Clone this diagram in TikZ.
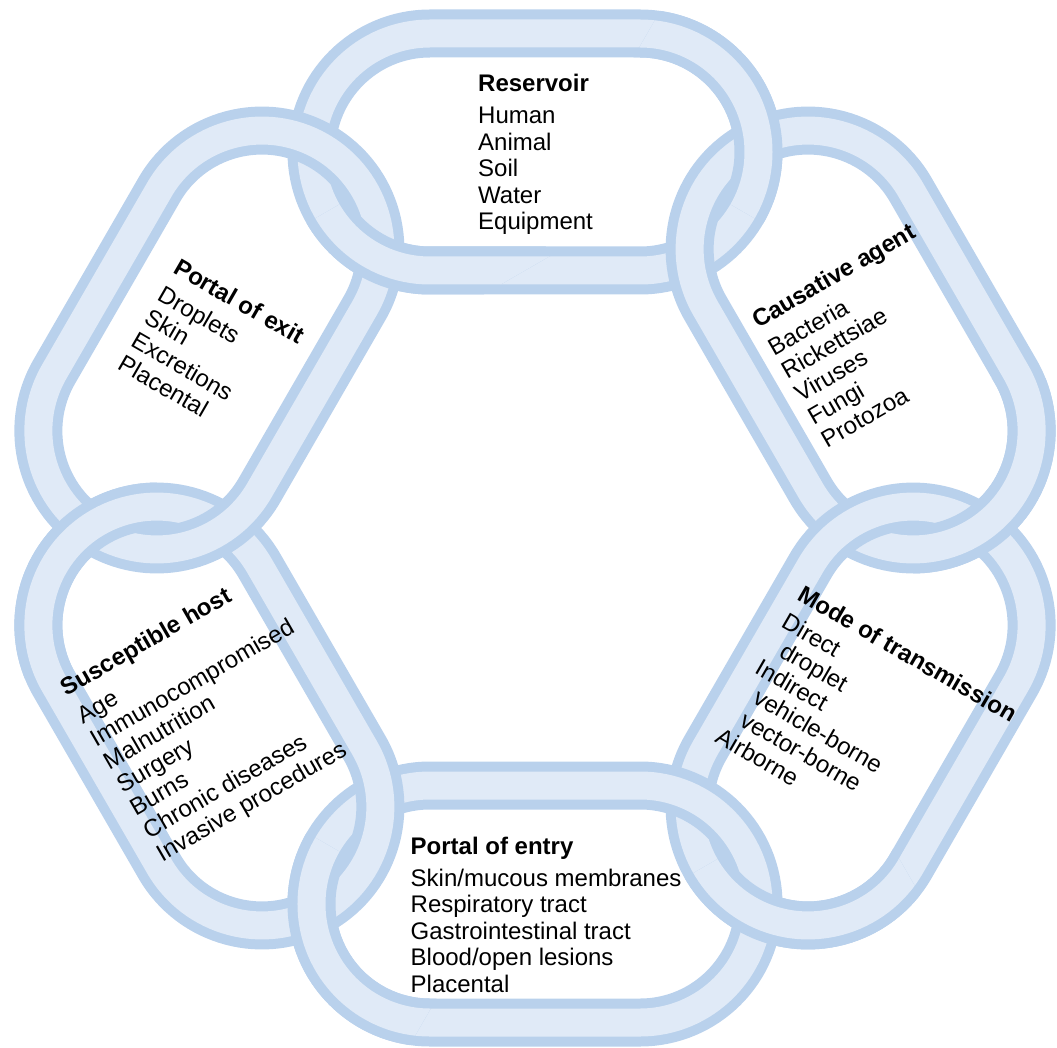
\documentclass[tikz,border=0pt]{standalone}
\usepackage{fontspec}
\setmainfont{Liberation Sans}
\definecolor{linkblue}{RGB}{185,209,236}
\definecolor{linklight}{RGB}{224,234,247}

\begin{document}
\begin{tikzpicture}[x=1pt, y=1pt]
\tikzset{
    linkband/.style={draw=linklight, line width=28pt, preaction={draw=linkblue, line width=48pt}},
    linklabel/.style={font=\fontsize{24}{26.5}\selectfont, inner sep=0pt, anchor=base west},
    chainlink/.pic={
        \path[linkband] (-105,-118.5) -- (105,-118.5) arc[start angle=-90, end angle=90, radius=118.5]
            -- (-105,118.5) arc[start angle=90, end angle=270, radius=118.5] -- cycle;
    }
}
\useasboundingbox (-535,-519) rectangle (522,528);

% the six links, clockwise from the top
\pic[rotate=0] at (90:376) {chainlink};
\pic[rotate=-60] at (30:376) {chainlink};
\pic[rotate=60] at (-30:376) {chainlink};
\pic[rotate=0] at (-90:376) {chainlink};
\pic[rotate=-60] at (-150:376) {chainlink};
\pic[rotate=60] at (150:376) {chainlink};

% over/under at each joint: redraw one link on one side of the joint
\begin{scope}
\clip[shift={(60:378)}, rotate=60] (0,-150) rectangle (150,150);
\pic[rotate=0] at (90:376) {chainlink};
\end{scope}
\begin{scope}
\clip[shift={(0:378)}, rotate=0] (0,-150) rectangle (150,150);
\pic[rotate=-60] at (30:376) {chainlink};
\end{scope}
\begin{scope}
\clip[shift={(-60:378)}, rotate=-60] (0,-150) rectangle (150,150);
\pic[rotate=60] at (-30:376) {chainlink};
\end{scope}
\begin{scope}
\clip[shift={(-120:378)}, rotate=-120] (0,-150) rectangle (150,150);
\pic[rotate=0] at (-90:376) {chainlink};
\end{scope}
\begin{scope}
\clip[shift={(180:378)}, rotate=180] (0,-150) rectangle (150,150);
\pic[rotate=-60] at (-150:376) {chainlink};
\end{scope}
\begin{scope}
\clip[shift={(120:378)}, rotate=120] (-150,-150) rectangle (0,150);
\pic[rotate=0] at (90:376) {chainlink};
\end{scope}

% texts
\node[linklabel] (reservoir) at (-57,436) {\begin{tabular}[t]{@{}l@{}}\textbf{Reservoir}\\[5.5pt]
    Human\\ Animal\\ Soil\\ Water\\ Equipment\end{tabular}};
\node[linklabel, rotate=30] (agent) at (223,199) {\begin{tabular}[t]{@{}l@{}}\textbf{Causative agent}\\[5.5pt]
    Bacteria\\ Rickettsiae\\ Viruses\\ Fungi\\ Protozoa\end{tabular}};
\node[linklabel, rotate=-30] (transmission) at (261,-71) {\begin{tabular}[t]{@{}l@{}}\textbf{Mode of transmission}\\[5.5pt]
    Direct\\ \hspace{13pt}droplet\\ Indirect\\ \hspace{13pt}vehicle-borne\\ \hspace{13pt}vector-borne\\ Airborne\end{tabular}};
\node[linklabel] (entry) at (-124.5,-326) {\begin{tabular}[t]{@{}l@{}}\textbf{Portal of entry}\\[5.5pt]
    Skin/mucous membranes\\ Respiratory tract\\ Gastrointestinal tract\\ Blood/open lesions\\ Placental\end{tabular}};
\node[linklabel, rotate=30] (host) at (-468.3,-168.7) {\begin{tabular}[t]{@{}l@{}}\textbf{Susceptible host}\\[5.5pt]
    Age\\ Immunocompromised\\ Malnutrition\\ Surgery\\ Burns\\ Chronic diseases\\ Invasive procedures\end{tabular}};
\node[linklabel, rotate=-30] (exit) at (-363,256) {\begin{tabular}[t]{@{}l@{}}\textbf{Portal of exit}\\[5.5pt]
    Droplets\\ Skin\\ Excretions\\ Placental\end{tabular}};
\end{tikzpicture}
\end{document}
